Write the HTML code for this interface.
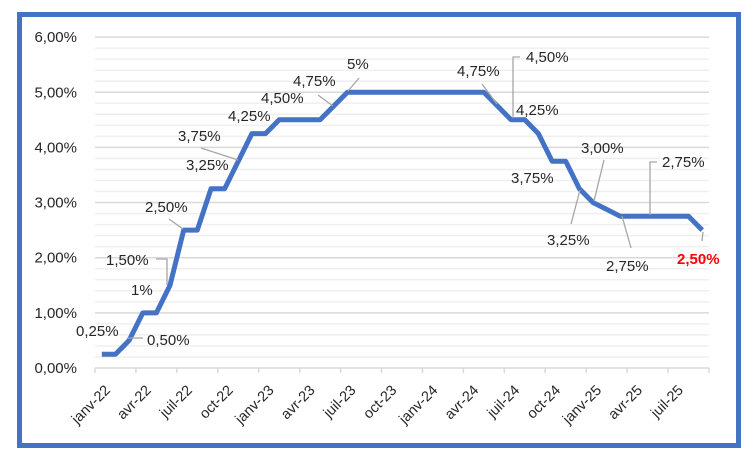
<!DOCTYPE html>
<html><head><meta charset="utf-8"><style>
html,body{margin:0;padding:0;background:#fff;}
svg{display:block;font-family:"Liberation Sans",sans-serif;}
</style></head><body>
<svg width="755" height="465" viewBox="0 0 755 465" xmlns="http://www.w3.org/2000/svg">
<rect x="0" y="0" width="755" height="465" fill="#fff"/>
<rect x="19.5" y="14.5" width="719" height="431" fill="#fff" stroke="#4472C4" stroke-width="5"/>
<path fill="none" stroke="#efefef" stroke-width="1.5" d="M95 356.97H709M95 345.94H709M95 334.91H709M95 323.88H709M95 301.82H709M95 290.79H709M95 279.76H709M95 268.73H709M95 246.67H709M95 235.64H709M95 224.61H709M95 213.58H709M95 191.52H709M95 180.49H709M95 169.46H709M95 158.43H709M95 136.37H709M95 125.34H709M95 114.31H709M95 103.28H709M95 81.22H709M95 70.19H709M95 59.16H709M95 48.13H709"/>
<path fill="none" stroke="#d9d9d9" stroke-width="1.5" d="M95 312.85H709M95 257.7H709M95 202.55H709M95 147.4H709M95 92.25H709M95 37.1H709M95 368H709"/>
<path fill="none" stroke="#d9d9d9" stroke-width="1.5" d="M95 368V373M135.9 368V373M176.9 368V373M217.8 368V373M258.7 368V373M299.7 368V373M340.6 368V373M381.5 368V373M422.5 368V373M463.4 368V373M504.3 368V373M545.2 368V373M586.2 368V373M627.1 368V373M668 368V373M709 368V373"/>
<g font-size="15" fill="#262626" text-anchor="end">
<text x="77" y="373">0,00%</text>
<text x="77" y="317.85">1,00%</text>
<text x="77" y="262.7">2,00%</text>
<text x="77" y="207.55">3,00%</text>
<text x="77" y="152.4">4,00%</text>
<text x="77" y="97.25">5,00%</text>
<text x="77" y="42.1">6,00%</text>
</g>
<g font-size="14.5" fill="#262626" text-anchor="end">
<text x="111" y="391" transform="rotate(-45 111 391)">janv-22</text>
<text x="151.9" y="391" transform="rotate(-45 151.9 391)">avr-22</text>
<text x="192.9" y="391" transform="rotate(-45 192.9 391)">juil-22</text>
<text x="233.8" y="391" transform="rotate(-45 233.8 391)">oct-22</text>
<text x="274.7" y="391" transform="rotate(-45 274.7 391)">janv-23</text>
<text x="315.7" y="391" transform="rotate(-45 315.7 391)">avr-23</text>
<text x="356.6" y="391" transform="rotate(-45 356.6 391)">juil-23</text>
<text x="397.5" y="391" transform="rotate(-45 397.5 391)">oct-23</text>
<text x="438.5" y="391" transform="rotate(-45 438.5 391)">janv-24</text>
<text x="479.4" y="391" transform="rotate(-45 479.4 391)">avr-24</text>
<text x="520.3" y="391" transform="rotate(-45 520.3 391)">juil-24</text>
<text x="561.2" y="391" transform="rotate(-45 561.2 391)">oct-24</text>
<text x="602.2" y="391" transform="rotate(-45 602.2 391)">janv-25</text>
<text x="643.1" y="391" transform="rotate(-45 643.1 391)">avr-25</text>
<text x="684" y="391" transform="rotate(-45 684 391)">juil-25</text>
</g>
<polyline fill="none" stroke="#4472C4" stroke-width="5" stroke-linejoin="round" points="101.8,354.2 115.5,354.2 129.1,340.4 142.8,312.85 156.4,312.85 170.0,285.3 183.7,230.1 197.3,230.1 211.0,188.8 224.6,188.8 238.3,161.2 251.9,133.6 265.5,133.6 279.2,119.8 320.1,119.8 333.8,106.0 347.4,92.25 483.8,92.25 497.5,106.0 511.1,119.8 524.8,119.8 538.4,133.6 552.1,161.2 565.7,161.2 579.4,188.8 593.0,202.55 606.7,209.4 620.3,216.3 688.5,216.3 702.2,230.1"/>
<g stroke="#a6a6a6" stroke-width="1.3" fill="none">
<line x1="128" y1="338" x2="143" y2="338"/>
<polyline points="156,259 167,259 167,285"/>
<line x1="169" y1="219" x2="183" y2="229"/>
<line x1="201" y1="148" x2="238" y2="160"/>
<line x1="318" y1="95" x2="333" y2="106"/>
<line x1="359" y1="78" x2="348" y2="91"/>
<line x1="482" y1="84" x2="497" y2="104"/>
<polyline points="520,57 513,57 513,118"/>
<line x1="604" y1="160" x2="594" y2="201"/>
<line x1="571" y1="224" x2="580" y2="190"/>
<line x1="631" y1="248" x2="622" y2="216"/>
<polyline points="657,162 650,162 650,215"/>
<line x1="702" y1="241" x2="703" y2="232"/>
</g>
<g font-size="15" fill="#262626">
<text x="76" y="336">0,25%</text>
<text x="147" y="345">0,50%</text>
<text x="131" y="295">1%</text>
<text x="106" y="265">1,50%</text>
<text x="145" y="212">2,50%</text>
<text x="186" y="170">3,25%</text>
<text x="178" y="141">3,75%</text>
<text x="228" y="121">4,25%</text>
<text x="261" y="103">4,50%</text>
<text x="293" y="86">4,75%</text>
<text x="347" y="69">5%</text>
<text x="457" y="76">4,75%</text>
<text x="526" y="62">4,50%</text>
<text x="516" y="115">4,25%</text>
<text x="511" y="183">3,75%</text>
<text x="581" y="153">3,00%</text>
<text x="547" y="245">3,25%</text>
<text x="606" y="271">2,75%</text>
<text x="662" y="167">2,75%</text>
<text x="677" y="264" fill="#ff0000" font-weight="bold">2,50%</text>
</g>
</svg>
</body></html>
